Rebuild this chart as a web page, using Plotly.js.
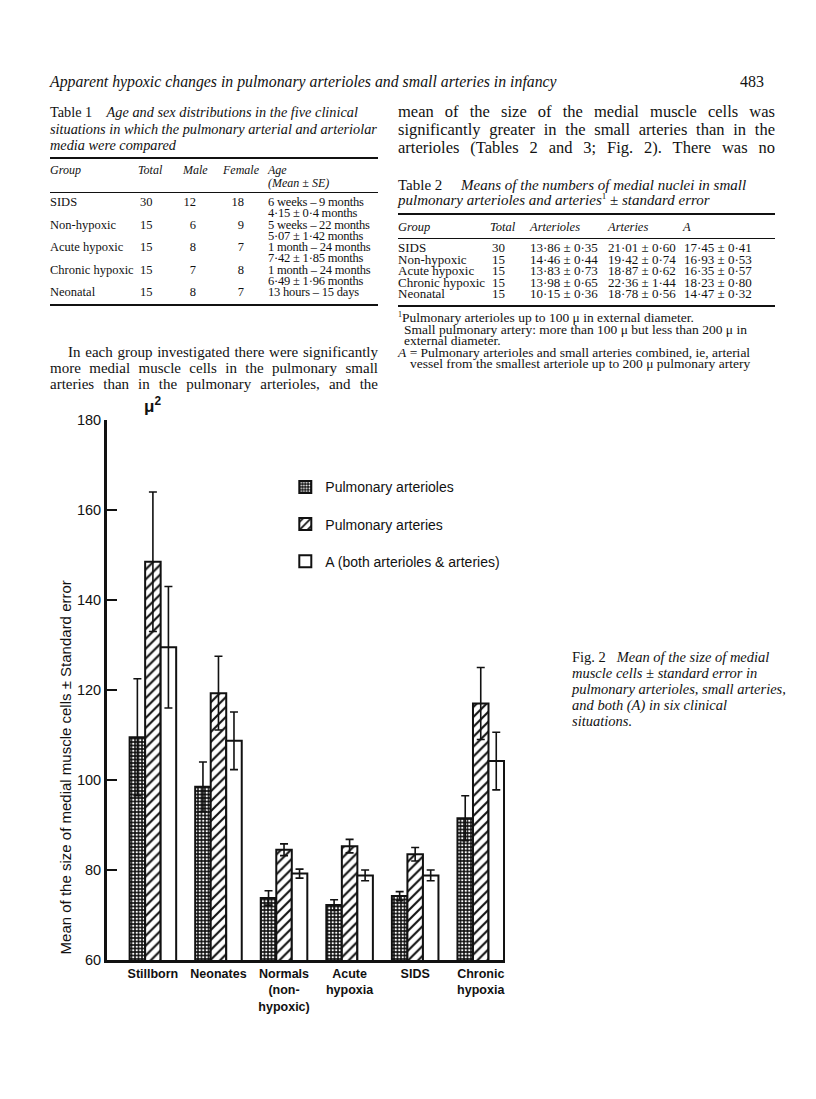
<!DOCTYPE html>
<html>
<head>
<meta charset="utf-8">
<script src="https://cdn.plot.ly/plotly-3.0.1.min.js"></script>
<style>
  body { margin: 0; background: #fff; }
  #page { position: relative; width: 816px; height: 1099px; font-family: "Liberation Serif", "DejaVu Serif", serif; color: #111; }
  .abs { position: absolute; white-space: nowrap; }
  .j div { text-align: justify; text-align-last: justify; white-space: nowrap; }
  .rule { position: absolute; height: 0; border-top: 2px solid #111; }
  .thin { border-top-width: 1px; }
  table { border-collapse: collapse; }
  td { padding: 0; white-space: nowrap; vertical-align: top; }
  i { font-style: italic; }
  sup { line-height: 0; }
  #plot { position: absolute; left: 0; top: 380px; width: 560px; height: 680px; }
</style>
</head>
<body>
<div id="page">
  <div class="abs" style="left:50px; top:73px; font-size:15.8px; line-height:18px; font-style:italic;">Apparent hypoxic changes in pulmonary arterioles and small arteries in infancy</div>
  <div class="abs" style="left:740px; top:73px; font-size:16px; line-height:18px;">483</div>

  <!-- Table 1 -->
  <div class="abs" style="left:50px; top:104px; font-size:14.3px; line-height:16.5px;">
    <div>Table 1&nbsp;&nbsp;&nbsp; <i>Age and sex distributions in the five clinical</i></div>
    <div><i>situations in which the pulmonary arterial and arteriolar</i></div>
    <div><i>media were compared</i></div>
  </div>
  <div class="rule" style="left:50px; width:328px; top:157px;"></div>
  <div class="abs" style="left:50px; top:164px; font-size:12px; line-height:13px; font-style:italic;">
    <span class="abs" style="left:0">Group</span>
    <span class="abs" style="left:88px">Total</span>
    <span class="abs" style="left:133px">Male</span>
    <span class="abs" style="left:173px">Female</span>
    <span class="abs" style="left:218px">Age<br>(Mean ± SE)</span>
  </div>
  <div class="rule thin" style="left:50px; width:328px; top:192px;"></div>
  <div id="t1" class="abs" style="left:50px; top:197px; font-size:12.5px; line-height:11.3px;"></div>
  <div class="rule" style="left:50px; width:328px; top:304px;"></div>

  <!-- Right column paragraph -->
  <div class="abs j" style="left:398px; top:103px; width:377px; font-size:16.5px; line-height:18px;">
    <div>mean of the size of the medial muscle cells was</div>
    <div>significantly greater in the small arteries than in the</div>
    <div>arterioles (Tables 2 and 3; Fig. 2). There was no</div>
  </div>

  <!-- Table 2 -->
  <div class="abs" style="left:398px; top:178px; font-size:15px; line-height:15px;">
    <div>Table 2&nbsp;&nbsp;&nbsp;&nbsp; <i>Means of the numbers of medial nuclei in small</i></div>
    <div><i>pulmonary arterioles and arteries</i><sup style="font-size:9px">1</sup> ± <i>standard error</i></div>
  </div>
  <div class="rule" style="left:398px; width:377px; top:213px;"></div>
  <div class="abs" style="left:398px; top:221px; font-size:12.5px; line-height:13px; font-style:italic;">
    <span class="abs" style="left:0">Group</span>
    <span class="abs" style="left:92px">Total</span>
    <span class="abs" style="left:132px">Arterioles</span>
    <span class="abs" style="left:210px">Arteries</span>
    <span class="abs" style="left:285px">A</span>
  </div>
  <div class="rule thin" style="left:398px; width:377px; top:238px;"></div>
  <div id="t2" class="abs" style="left:398px; top:242px; font-size:13px; line-height:11.6px;"></div>
  <div class="rule" style="left:398px; width:377px; top:305px;"></div>
  <div class="abs" style="left:398px; top:312px; font-size:13.5px; line-height:11.6px;">
    <div><sup style="font-size:8px">1</sup>Pulmonary arterioles up to 100 μ in external diameter.</div>
    <div style="padding-left:6px">Small pulmonary artery: more than 100 μ but less than 200 μ in</div>
    <div style="padding-left:6px">external diameter.</div>
    <div><i>A</i> = Pulmonary arterioles and small arteries combined, ie, arterial</div>
    <div style="padding-left:12px">vessel from the smallest arteriole up to 200 μ pulmonary artery</div>
  </div>

  <!-- Left paragraph -->
  <div class="abs j" style="left:50px; top:344px; width:328px; font-size:15px; line-height:16px;">
    <div style="padding-left:18px">In each group investigated there were significantly</div>
    <div>more medial muscle cells in the pulmonary small</div>
    <div>arteries than in the pulmonary arterioles, and the</div>
  </div>

  <!-- Figure caption -->
  <div class="abs" style="left:572px; top:649px; font-size:14.5px; line-height:16px;">
    <div>Fig. 2&nbsp;&nbsp; <i>Mean of the size of medial</i></div>
    <div><i>muscle cells ± standard error in</i></div>
    <div><i>pulmonary arterioles, small arteries,</i></div>
    <div><i>and both (A) in six clinical</i></div>
    <div><i>situations.</i></div>
  </div>

  <div id="plot"></div>
</div>

<script>
// Table 1 rows
const t1Groups = ['SIDS', 'Non-hypoxic', 'Acute hypoxic', 'Chronic hypoxic', 'Neonatal'];
const t1Total = [30, 15, 15, 15, 15];
const t1Male = [12, 6, 8, 7, 8];
const t1Female = [18, 9, 7, 8, 7];
const t1Range = ['6 weeks – 9 months', '5 weeks – 22 months', '1 month – 24 months', '1 month – 24 months', '13 hours – 15 days'];
const t1Mean = ['4·15 ± 0·4 months', '5·07 ± 1·42 months', '7·42 ± 1·85 months', '6·49 ± 1·96 months', ''];

// Table 2 rows
const t2Groups = ['SIDS', 'Non-hypoxic', 'Acute hypoxic', 'Chronic hypoxic', 'Neonatal'];
const t2Total = [30, 15, 15, 15, 15];
const t2Arterioles = ['13·86 ± 0·35', '14·46 ± 0·44', '13·83 ± 0·73', '13·98 ± 0·65', '10·15 ± 0·36'];
const t2Arteries = ['21·01 ± 0·60', '19·42 ± 0·74', '18·87 ± 0·62', '22·36 ± 1·44', '18·78 ± 0·56'];
const t2A = ['17·45 ± 0·41', '16·93 ± 0·53', '16·35 ± 0·57', '18·23 ± 0·80', '14·47 ± 0·32'];

// Fig. 2 data
const groups = ['Stillborn', 'Neonates', 'Normals<br>(non-<br>hypoxic)', 'Acute<br>hypoxia', 'SIDS', 'Chronic<br>hypoxia'];
const arterioles = [109.5, 98.5, 73.8, 72.2, 74.2, 91.5];
const arteriolesSE = [13, 5.5, 1.6, 1.2, 1.0, 5.0];
const arteries = [148.5, 119.3, 84.5, 85.3, 83.5, 117];
const arteriesSE = [15.5, 8.2, 1.3, 1.5, 1.5, 8];
const combined = [129.5, 108.7, 79.2, 78.8, 78.8, 104.2];
const combinedSE = [13.5, 6.4, 1.0, 1.2, 1.2, 6.4];

let h = '<table>';
t1Groups.forEach((g, i) => {
  h += `<tr><td style="width:90px">${g}</td><td style="width:36px">${t1Total[i]}</td>` +
       `<td style="width:20px;text-align:right">${t1Male[i]}</td><td style="width:48px;text-align:right">${t1Female[i]}</td>` +
       `<td style="padding-left:24px;letter-spacing:-0.2px">${t1Range[i]}<br>${t1Mean[i] || '&nbsp;'}</td></tr>`;
});
document.getElementById('t1').innerHTML = h + '</table>';

let h2 = '<table>';
t2Groups.forEach((g, i) => {
  h2 += `<tr><td style="width:94px">${g}</td><td style="width:38px">${t2Total[i]}</td>` +
        `<td style="width:78px">${t2Arterioles[i]}</td><td style="width:76px">${t2Arteries[i]}</td><td>${t2A[i]}</td></tr>`;
});
document.getElementById('t2').innerHTML = h2 + '</table>';

const xs = groups.map((_, i) => i);
const errStyle = { type: 'data', visible: true, color: '#111', thickness: 1.6, width: 4 };
const lineStyle = { color: '#111', width: 2 };

const traces = [
  {
    type: 'bar', name: 'Pulmonary arterioles', x: xs, y: arterioles, legendgroup: 'a',
    marker: { color: '#111', line: lineStyle,
      pattern: { shape: '.', bgcolor: '#111', fgcolor: '#fff', size: 3.5, solidity: 0.35 } },
    error_y: Object.assign({ array: arteriolesSE }, errStyle)
  },
  {
    type: 'bar', name: 'Pulmonary arteries', x: xs, y: arteries, legendgroup: 'b',
    marker: { color: '#fff', line: lineStyle,
      pattern: { shape: '/', bgcolor: '#fff', fgcolor: '#111', size: 7, solidity: 0.3 } },
    error_y: Object.assign({ array: arteriesSE }, errStyle)
  },
  {
    type: 'bar', name: 'A (both arterioles & arteries)', x: xs, y: combined, legendgroup: 'c',
    marker: { color: '#fff', line: lineStyle },
    error_y: Object.assign({ array: combinedSE }, errStyle)
  }
];

const layout = {
  width: 560, height: 680,
  margin: { l: 107, r: 55, t: 40, b: 100 },
  paper_bgcolor: 'rgba(0,0,0,0)',
  plot_bgcolor: 'rgba(0,0,0,0)',
  font: { family: '"Liberation Sans", Arial, sans-serif', color: '#111' },
  barmode: 'group',
  bargap: 0.29,
  bargroupgap: 0,
  showlegend: true,
  legend: {
    x: 0.448, y: 0.905, xanchor: 'left', yanchor: 'top',
    font: { size: 14, family: '"Liberation Sans", Arial, sans-serif' },
    traceorder: 'grouped', tracegroupgap: 16, bgcolor: 'rgba(0,0,0,0)'
  },
  xaxis: {
    range: [-0.7, 5.37],
    tickmode: 'array', tickvals: xs, ticktext: groups,
    showline: true, linecolor: '#111', linewidth: 3,
    showgrid: false, zeroline: false, ticks: '',
    tickfont: { size: 12.5, weight: 'bold' },
    fixedrange: true
  },
  yaxis: {
    range: [60, 180],
    tickvals: [60, 80, 100, 120, 140, 160, 180],
    showline: true, linecolor: '#111', linewidth: 3,
    showgrid: false, zeroline: false,
    ticks: 'inside', ticklen: 10, tickwidth: 2.5, tickcolor: '#111',
    tickfont: { size: 14.5 },
    fixedrange: true
  },
  annotations: [
    {
      xref: 'paper', yref: 'paper', x: 0.115, y: 1.028, xanchor: 'center', yanchor: 'middle',
      text: '<b>μ<sup>2</sup></b>', showarrow: false, font: { size: 17 }
    },
    {
      xref: 'paper', yref: 'paper', x: -0.105, y: 0.357, xanchor: 'center', yanchor: 'middle',
      textangle: -90, text: 'Mean of the size of medial muscle cells ± Standard error',
      showarrow: false, font: { size: 15 }
    }
  ]
};

Plotly.newPlot('plot', traces, layout, { displayModeBar: false, staticPlot: true });
</script>
</body>
</html>
